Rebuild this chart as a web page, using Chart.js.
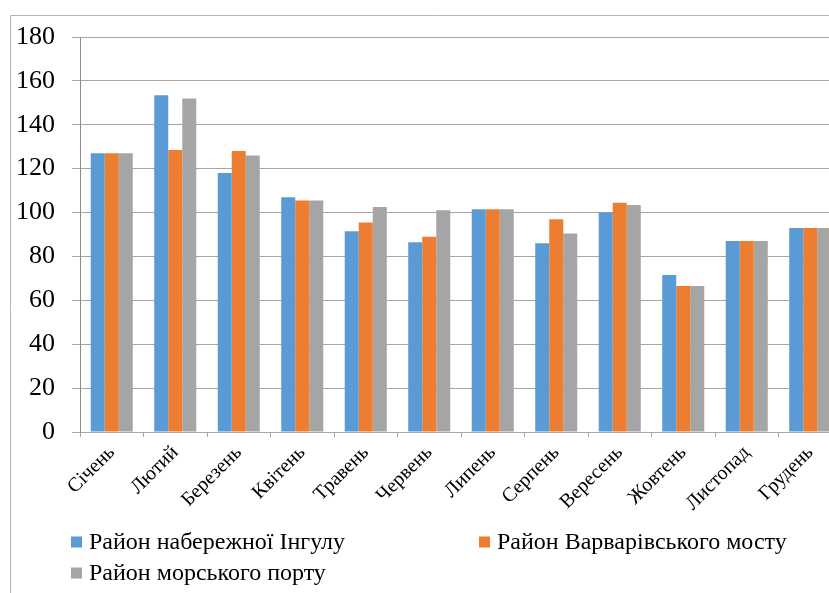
<!DOCTYPE html>
<html>
<head>
<meta charset="utf-8">
<style>
  html, body { margin: 0; padding: 0; background: #ffffff; overflow: hidden; }
  #wrap { position: relative; width: 860px; height: 593px; }
</style>
<script src="https://cdn.jsdelivr.net/npm/chart.js@4/dist/chart.umd.min.js"></script>
</head>
<body>
<div id="wrap"><canvas id="chart" width="860" height="593"></canvas></div>
<script>
// Months of the year
const months = ['Січень', 'Лютий', 'Березень', 'Квітень', 'Травень', 'Червень',
                'Липень', 'Серпень', 'Вересень', 'Жовтень', 'Листопад', 'Грудень'];

// Monthly values per district
const ingulEmbankment = [127, 153.5, 118, 107, 91.5, 86.5, 101.5, 86, 100, 71.5, 87, 93];
const varvarivkaBridge = [127, 128.5, 128, 105.5, 95.5, 89, 101.5, 97, 104.5, 66.5, 87, 93];
const seaPort = [127, 152, 126, 105.5, 102.5, 101, 101.5, 90.5, 103.5, 66.5, 87, 93];

const seriesNames = ['Район набережної Інгулу', 'Район Варварівського мосту', 'Район морського порту'];

// Y axis range and step
const yMin = 0;
const yMax = 180;
const yStep = 20;

const SERIF = '"Liberation Serif", "Times New Roman", serif';

// Outer frame and a two-column legend below the plot
const frameAndLegend = {
  id: 'frameAndLegend',
  beforeDraw(chart) {
    const ctx = chart.ctx;
    ctx.save();
    ctx.fillStyle = '#ffffff';
    ctx.fillRect(0, 0, chart.width, chart.height);
    ctx.strokeStyle = '#b4b4b4';
    ctx.lineWidth = 1;
    ctx.beginPath();
    ctx.moveTo(10.5, chart.height);
    ctx.lineTo(10.5, 15.5);
    ctx.lineTo(chart.width, 15.5);
    ctx.stroke();
    ctx.restore();
  },
  afterDraw(chart, args, opts) {
    const ctx = chart.ctx;
    ctx.save();
    ctx.font = opts.font;
    ctx.textBaseline = 'middle';
    ctx.textAlign = 'left';
    chart.data.datasets.forEach((ds, i) => {
      const slot = opts.slots[i];
      const box = opts.box;
      ctx.fillStyle = ds.backgroundColor;
      ctx.fillRect(slot.x, slot.y - box / 2, box, box);
      ctx.fillStyle = '#000000';
      ctx.fillText(ds.label, slot.x + box + opts.gap, slot.y + 1);
    });
    ctx.restore();
  }
};

function build() {
  new Chart(document.getElementById('chart'), {
    type: 'bar',
    data: {
      labels: months,
      datasets: [
        { label: seriesNames[0], data: ingulEmbankment, backgroundColor: '#5B9BD5' },
        { label: seriesNames[1], data: varvarivkaBridge, backgroundColor: '#ED7D31' },
        { label: seriesNames[2], data: seaPort, backgroundColor: '#A5A5A5' }
      ]
    },
    options: {
      responsive: false,
      animation: false,
      devicePixelRatio: 1,
      layout: { padding: { left: 0, top: 37, right: 18, bottom: 0 } },
      datasets: {
        bar: { categoryPercentage: 0.662, barPercentage: 1.0 }
      },
      plugins: {
        legend: { display: false },
        tooltip: { enabled: false },
        frameAndLegend: {
          font: '24px ' + SERIF,
          box: 11,
          gap: 7,
          slots: [
            { x: 71, y: 542 },
            { x: 479, y: 542 },
            { x: 71, y: 573 }
          ]
        }
      },
      scales: {
        x: {
          afterFit(scale) { scale.height = 161; },
          grid: {
            offset: true,
            drawOnChartArea: false,
            drawTicks: true,
            tickLength: 5,
            color: '#a6a6a6'
          },
          border: { color: '#a6a6a6', width: 1 },
          ticks: {
            maxRotation: 45,
            minRotation: 45,
            autoSkip: false,
            padding: 4,
            color: '#000000',
            font: { family: SERIF, size: 20 }
          }
        },
        y: {
          min: yMin,
          max: yMax,
          afterFit(scale) { scale.width = 80; },
          grid: {
            color: '#a6a6a6',
            drawTicks: true,
            tickLength: 8
          },
          border: { color: '#8c8c8c', width: 1 },
          ticks: {
            stepSize: yStep,
            padding: 17,
            color: '#000000',
            font: { family: SERIF, size: 26 }
          }
        }
      }
    },
    plugins: [frameAndLegend]
  });
}

if (document.fonts && document.fonts.load) {
  Promise.all([
    document.fonts.load('26px "Liberation Serif"', 'Район 0123456789')
  ]).then(build, build);
} else {
  build();
}
</script>
</body>
</html>
